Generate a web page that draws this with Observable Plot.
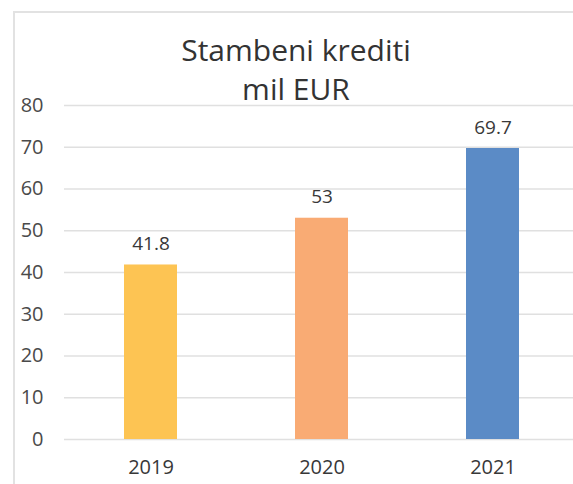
<!DOCTYPE html>
<html><head><meta charset="utf-8">
<script src="https://cdn.jsdelivr.net/npm/d3@7"></script>
<script src="https://cdn.jsdelivr.net/npm/@observablehq/plot@0.6"></script>
<style>
body{margin:0;background:#fff;}
#wrap{position:relative;width:573px;height:484px;overflow:hidden;font-family:"Open Sans",sans-serif;}
#border{position:absolute;left:13px;top:11px;width:600px;height:600px;border-left:2px solid #e2e2e2;border-top:2px solid #e2e2e2;}
.t{position:absolute;left:0;width:592px;text-align:center;font-size:30px;line-height:1;color:#333333;white-space:nowrap;}
#chart{position:absolute;left:0;top:0;}
</style></head><body>
<div id="wrap">
  <div id="border"></div>
  <div id="chart"></div>
  <div class="t" style="top:35px">Stambeni krediti</div>
  <div class="t" style="top:74px">mil EUR</div>
</div>
<script>
const years = ["2019", "2020", "2021"];
const values = [41.8, 53, 69.7];
const barColors = ["#FDC453", "#F9AB74", "#5B8BC6"];
const yTicks = [0, 10, 20, 30, 40, 50, 60, 70, 80];

const data = years.map((y, i) => ({year: y, value: values[i], color: barColors[i]}));

const plot = Plot.plot({
  width: 573, height: 484,
  marginLeft: 64, marginRight: 0, marginTop: 105, marginBottom: 45,
  style: {fontFamily: "'Open Sans', sans-serif", background: "transparent", overflow: "visible"},
  x: {domain: years, range: [64, 579], paddingInner: 0.69, paddingOuter: 0.345},
  y: {domain: [0, 80]},
  marks: [
    Plot.ruleY(yTicks, {stroke: "#e0e0e0", strokeWidth: 1.5}),
    Plot.barY(data, {x: "year", y: "value", fill: "color"}),
    Plot.text(data, {x: "year", y: "value", text: d => String(d.value), lineAnchor: "bottom", dy: -15, fontSize: 19, fill: "#383838"}),
    Plot.axisY({ticks: yTicks, tickSize: 0, tickPadding: 21, fontSize: 20, fill: "#4a4a4a", label: null}),
    Plot.axisX({tickSize: 0, tickPadding: 20, fontSize: 20, fill: "#383838", label: null})
  ]
});
document.getElementById("chart").appendChild(plot);
</script>
</body></html>
